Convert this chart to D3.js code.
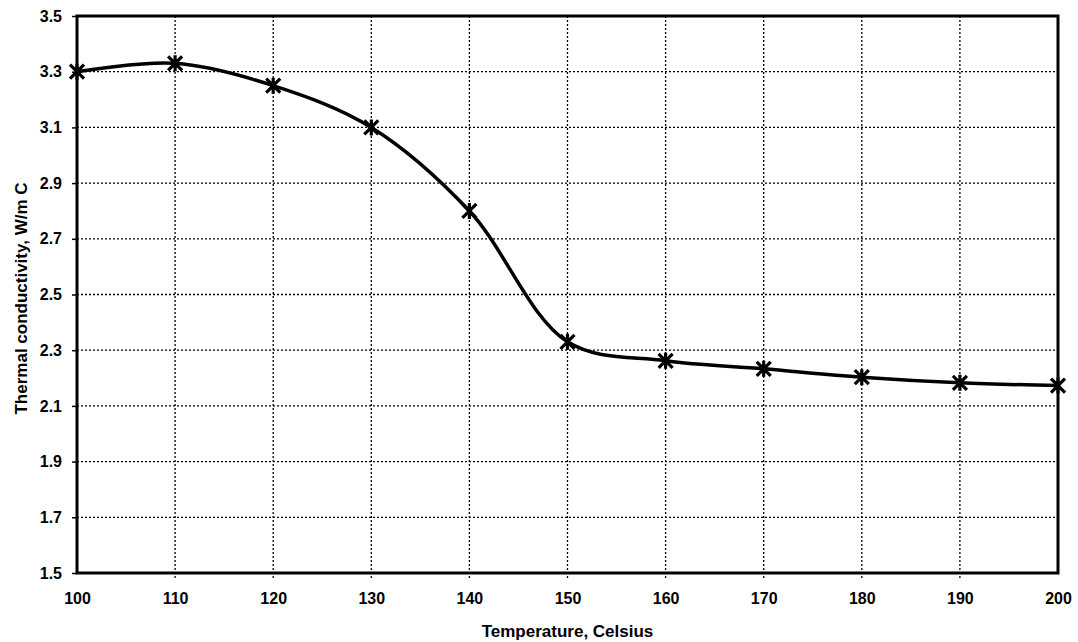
<!DOCTYPE html>
<html>
<head>
<meta charset="utf-8">
<script src="https://cdn.jsdelivr.net/npm/d3@7"></script>
<style>
  html, body { margin: 0; padding: 0; background: #fff; }
  svg text { font-family: "Liberation Sans", Arial, sans-serif; font-weight: bold; fill: #000; }
</style>
</head>
<body>
<svg id="chart"></svg>
<script>
// data
const temps = [100, 110, 120, 130, 140, 150, 160, 170, 180, 190, 200];
const conductivity = [3.30, 3.33, 3.25, 3.10, 2.80, 2.33, 2.262, 2.233, 2.203, 2.183, 2.173];
const xTicks = [100, 110, 120, 130, 140, 150, 160, 170, 180, 190, 200];
const yTicks = [1.5, 1.7, 1.9, 2.1, 2.3, 2.5, 2.7, 2.9, 3.1, 3.3, 3.5];

function drawChart() {
    const width = 1078;
    const height = 642;
    const margin = { top: 16, right: 20, bottom: 69, left: 77 };

    const svg = d3.select("#chart")
        .attr("width", width)
        .attr("height", height);

    const x = d3.scaleLinear().domain([100, 200]).range([margin.left, width - margin.right]);
    const y = d3.scaleLinear().domain([1.5, 3.5]).range([height - margin.bottom, margin.top]);

// gridlines
    svg.append("g")
        .selectAll("line")
        .data(yTicks.slice(1, -1))
        .enter().append("line")
        .attr("x1", x(100)).attr("x2", x(200))
        .attr("y1", d => y(d)).attr("y2", d => y(d))
        .attr("stroke", "#000")
        .attr("stroke-width", 1.3)
        .attr("stroke-dasharray", "2,2");

    svg.append("g")
        .selectAll("line")
        .data(xTicks.slice(1, -1))
        .enter().append("line")
        .attr("x1", d => x(d)).attr("x2", d => x(d))
        .attr("y1", y(3.5)).attr("y2", y(1.5) + 5)
        .attr("stroke", "#000")
        .attr("stroke-width", 1.3)
        .attr("stroke-dasharray", "2,2");

// axes
    const yAxis = svg.append("g")
        .attr("transform", `translate(${x(100)},0)`)
        .call(d3.axisLeft(y).tickValues(yTicks).tickFormat(d3.format(".1f")).tickSize(5).tickPadding(10));
    const xAxis = svg.append("g")
        .attr("transform", `translate(0,${y(1.5)})`)
        .call(d3.axisBottom(x).tickValues(xTicks).tickFormat(d3.format("d")).tickSize(0).tickPadding(20));

    yAxis.select(".domain").remove();
    xAxis.select(".domain").remove();
    yAxis.selectAll("line").attr("stroke", "#000").attr("stroke-width", 1.5);
    svg.selectAll(".tick text")
        .style("font-size", "16px")
        .style("font-weight", "bold")
        .style("font-family", "'Liberation Sans', Arial, sans-serif");

// frame
    svg.append("rect")
        .attr("x", x(100)).attr("y", y(3.5))
        .attr("width", x(200) - x(100))
        .attr("height", y(1.5) - y(3.5))
        .attr("fill", "none")
        .attr("stroke", "#000")
        .attr("stroke-width", 3);

// smoothed line
    const pts = temps.map((t, i) => [t, conductivity[i]]);
    const line = d3.line()
        .x(d => x(d[0]))
        .y(d => y(d[1]))
        .curve(d3.curveCatmullRom.alpha(0.5));

    svg.append("path")
        .datum(pts)
        .attr("d", line)
        .attr("fill", "none")
        .attr("stroke", "#000")
        .attr("stroke-width", 3.5);

// star markers: X plus a vertical bar
    const s = 7;
    const star = `M${-s},${-s}L${s},${s}M${-s},${s}L${s},${-s}M0,${-s - 1}L0,${s + 1}`;
    svg.append("g")
        .selectAll("path")
        .data(pts)
        .enter().append("path")
        .attr("d", star)
        .attr("transform", d => `translate(${x(d[0])},${y(d[1])})`)
        .attr("fill", "none")
        .attr("stroke", "#000")
        .attr("stroke-width", 3.2);

// axis titles
    svg.append("text")
        .attr("x", (x(100) + x(200)) / 2)
        .attr("y", 637)
        .attr("text-anchor", "middle")
        .style("font-size", "17px")
        .text("Temperature, Celsius");

    svg.append("text")
        .attr("transform", `translate(27,${(y(1.5) + y(3.5)) / 2 + 4}) rotate(-90)`)
        .attr("text-anchor", "middle")
        .style("font-size", "17px")
        .text("Thermal conductivity, W/m C");
}

drawChart();
</script>
</body>
</html>
